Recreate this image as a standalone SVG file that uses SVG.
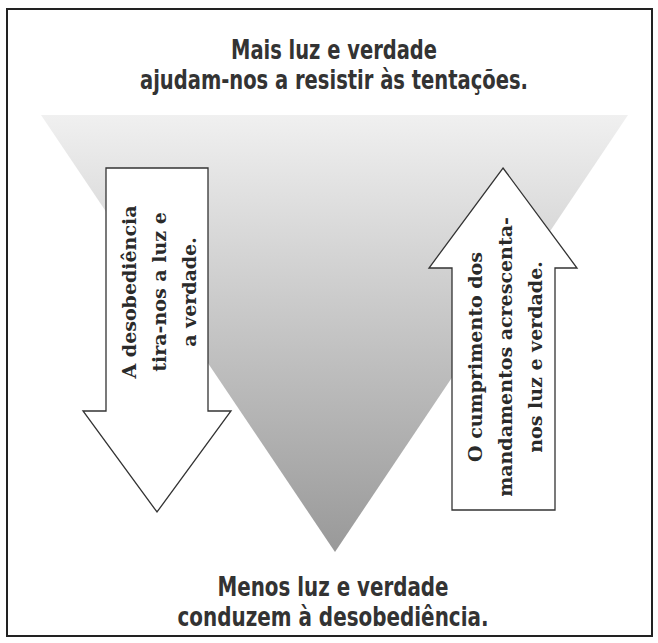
<svg xmlns="http://www.w3.org/2000/svg" width="658" height="643" viewBox="0 0 658 643">
<defs>
<linearGradient id="tri" x1="0" y1="115" x2="0" y2="552" gradientUnits="userSpaceOnUse">
<stop offset="0" stop-color="#f0f0f0"/>
<stop offset="1" stop-color="#999"/>
</linearGradient>
<style>
.title{font-family:"DejaVu Sans Condensed","DejaVu Sans","Liberation Sans",sans-serif;font-stretch:condensed;font-weight:bold;font-size:27px;fill:#333;text-anchor:middle}
.arr{fill:#fff;stroke:#333;stroke-width:1.3}
.lbl{font-family:"DejaVu Serif","Liberation Serif",serif;font-weight:bold;font-size:19px;fill:#2a2a2a;text-anchor:middle}
</style>
</defs>
<rect x="0" y="0" width="658" height="643" fill="#fff"/>
<rect x="7" y="9" width="645" height="627" fill="none" stroke="#222" stroke-width="2"/>
<g id="funnel">
<polygon points="41,115 628,115 335,552" fill="url(#tri)"/>
</g>
<g id="top-title">
<text class="title" x="334" y="59" textLength="206" lengthAdjust="spacingAndGlyphs">Mais luz e verdade</text>
<text class="title" x="334" y="89" textLength="388" lengthAdjust="spacingAndGlyphs">ajudam-nos a resistir às tentações.</text>
</g>
<g id="bottom-title">
<text class="title" x="333" y="596" textLength="231" lengthAdjust="spacingAndGlyphs">Menos luz e verdade</text>
<text class="title" x="333" y="626" textLength="311" lengthAdjust="spacingAndGlyphs">conduzem à desobediência.</text>
</g>
<g id="down-arrow">
<path class="arr" d="M106,168 H208 V411 H231 L157,512 L83,411 H106 Z"/>
<g transform="translate(0,292) rotate(-90)">
<text class="lbl" x="0" y="136">A desobediência</text>
<text class="lbl" x="0" y="166">tira-nos a luz e</text>
<text class="lbl" x="0" y="196">a verdade.</text>
</g>
</g>
<g id="up-arrow">
<path class="arr" d="M503,168 L577,268 H555 V510 H452 V268 H429 Z"/>
<g transform="translate(0,357) rotate(-90)">
<text class="lbl" x="0" y="482">O cumprimento dos</text>
<text class="lbl" x="0" y="512">mandamentos acrescenta-</text>
<text class="lbl" x="0" y="542">nos luz e verdade.</text>
</g>
</g>
</svg>
